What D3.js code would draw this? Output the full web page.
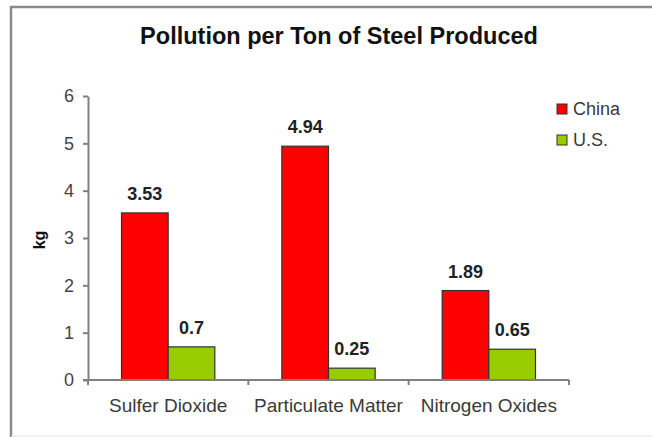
<!DOCTYPE html>
<html>
<head>
<meta charset="utf-8">
<script src="https://cdn.jsdelivr.net/npm/d3@7"></script>
<style>
  body { margin: 0; background: #fff; }
  svg { display: block; font-family: Arial, "Liberation Sans", sans-serif; }
</style>
</head>
<body>
<svg width="652" height="437"></svg>
<script>
"use strict";

var categories = ["Sulfer Dioxide", "Particulate Matter", "Nitrogen Oxides"];
var seriesNames = ["China", "U.S."];
var china = [3.53, 4.94, 1.89];
var us = [0.7, 0.25, 0.65];
var yTicks = [0, 1, 2, 3, 4, 5, 6];
var colors = ["#ff0000", "#99cc00"];

var svg = d3.select("svg");

// frame (left + top darker, bottom faint)
svg.append("path")
    .attr("d", "M11,437V7H652")
    .attr("fill", "none")
    .attr("stroke", "#8a8a8a")
    .attr("stroke-width", 2.5);
svg.append("line")
    .attr("x1", 11).attr("x2", 652)
    .attr("y1", 436).attr("y2", 436)
    .attr("stroke", "#e4e4e4");

var plotLeft = 88, plotRight = 569, plotTop = 96, plotBottom = 380;

var x0 = d3.scaleBand()
    .domain(categories)
    .range([plotLeft, plotRight])
    .paddingInner(0.418)
    .paddingOuter(0.209);

var x1 = d3.scaleBand()
    .domain(seriesNames)
    .range([0, x0.bandwidth()]);

var y = d3.scaleLinear()
    .domain([0, 6])
    .range([plotBottom, plotTop]);

svg.append("text")
    .attr("x", 339).attr("y", 44)
    .attr("text-anchor", "middle")
    .attr("font-size", 23.5)
    .attr("font-weight", "bold")
    .attr("fill", "#111")
    .text("Pollution per Ton of Steel Produced");

// y axis
var yAxis = svg.append("g")
    .attr("transform", "translate(" + plotLeft + ",0)")
    .call(d3.axisLeft(y).tickValues(yTicks).tickFormat(d3.format("d"))
        .tickSize(5).tickPadding(9).tickSizeOuter(0));
yAxis.select(".domain").attr("stroke", "#808080").attr("stroke-width", 2);
yAxis.selectAll(".tick line").attr("stroke", "#808080").attr("stroke-width", 2);
yAxis.selectAll(".tick text")
    .attr("font-size", 18)
    .attr("font-family", "Arial, 'Liberation Sans', sans-serif")
    .attr("fill", "#444");

svg.append("text")
    .attr("transform", "translate(45,240) rotate(-90)")
    .attr("text-anchor", "middle")
    .attr("font-size", 16)
    .attr("font-weight", "bold")
    .attr("fill", "#111")
    .text("kg");

// bars
var groups = svg.append("g").selectAll("g")
    .data(categories)
    .enter()
    .append("g")
    .attr("transform", function (d) { return "translate(" + x0(d) + ",0)"; });

var rows = function (d, i) {
    return [
        { name: seriesNames[0], value: china[i] },
        { name: seriesNames[1], value: us[i] }
    ];
};

groups.selectAll("rect")
    .data(rows)
    .enter()
    .append("rect")
    .attr("x", function (d) { return x1(d.name); })
    .attr("y", function (d) { return y(d.value); })
    .attr("width", x1.bandwidth())
    .attr("height", function (d) { return plotBottom - y(d.value); })
    .attr("fill", function (d, i) { return colors[i]; })
    .attr("stroke", "#333")
    .attr("stroke-width", 1.2);

groups.selectAll("text.val")
    .data(rows)
    .enter()
    .append("text")
    .classed("val", true)
    .attr("x", function (d) { return x1(d.name) + x1.bandwidth() / 2; })
    .attr("y", function (d) { return y(d.value) - 13; })
    .attr("text-anchor", "middle")
    .attr("font-size", 18)
    .attr("font-weight", "bold")
    .attr("fill", "#222")
    .text(function (d) { return d.value; });

// x axis
var xAxis = svg.append("g")
    .attr("transform", "translate(0," + plotBottom + ")");
xAxis.append("line")
    .attr("x1", plotLeft - 5).attr("x2", plotRight)
    .attr("y1", 0).attr("y2", 0)
    .attr("stroke", "#808080").attr("stroke-width", 2);
var bounds = [plotLeft].concat(categories.map(function (d) {
    return x0(d) + x0.bandwidth() + x0.step() * x0.paddingInner() / 2;
}));
xAxis.selectAll("line.tk")
    .data(bounds)
    .enter()
    .append("line")
    .classed("tk", true)
    .attr("x1", function (d) { return d; })
    .attr("x2", function (d) { return d; })
    .attr("y1", 0).attr("y2", 5)
    .attr("stroke", "#808080").attr("stroke-width", 2);
xAxis.selectAll("text")
    .data(categories)
    .enter()
    .append("text")
    .attr("x", function (d) { return x0(d) + x0.bandwidth() / 2; })
    .attr("y", 32)
    .attr("text-anchor", "middle")
    .attr("font-size", 19)
    .attr("fill", "#3a3a3a")
    .text(function (d) { return d; });

// legend
var legend = svg.append("g").selectAll("g")
    .data(seriesNames)
    .enter()
    .append("g")
    .attr("transform", function (d, i) { return "translate(557," + (104 + i * 31) + ")"; });
legend.append("rect")
    .attr("width", 10).attr("height", 10)
    .attr("fill", function (d, i) { return colors[i]; })
    .attr("stroke", "#333");
legend.append("text")
    .attr("x", 16).attr("y", 10.5)
    .attr("font-size", 18)
    .attr("fill", "#3a3a3a")
    .text(function (d) { return d; });
</script>
</body>
</html>
